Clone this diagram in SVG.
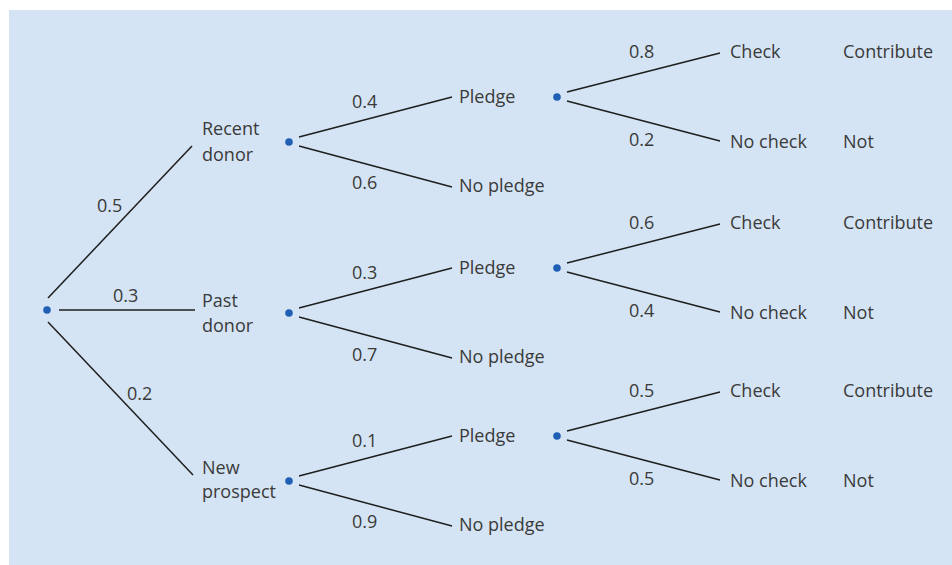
<svg xmlns="http://www.w3.org/2000/svg" width="952" height="565" viewBox="0 0 952 565">
  <style>
    text { font-family: "Open Sans", "Liberation Sans", sans-serif; font-size: 18px; fill: #3a3a3a; }
    .edge { stroke: #1e1e1e; stroke-width: 1.5; fill: none; }
    .dot { fill: #1f5fb4; }
  </style>
  <rect x="9" y="10" width="943" height="555" fill="#d4e4f4"/>

  <!-- root chance node -->
  <g id="root">
    <circle class="dot" cx="47" cy="310" r="3.8"/>
  </g>

  <!-- connectors from the root -->
  <g id="connectors">
    <line class="edge" x1="48" y1="298" x2="192" y2="146"/>
    <line class="edge" x1="59" y1="310" x2="195" y2="310"/>
    <line class="edge" x1="48" y1="322" x2="193" y2="475"/>
    <text x="97" y="212">0.5</text>
    <text x="113" y="302">0.3</text>
    <text x="127" y="400">0.2</text>
  </g>

  <!-- Recent donor branch -->
  <g id="recent-donor">
    <text x="202" y="135">Recent</text>
    <text x="202" y="161">donor</text>
    <circle class="dot" cx="289" cy="142" r="3.8"/>
    <line class="edge" x1="299" y1="137" x2="452" y2="97"/>
    <line class="edge" x1="299" y1="146" x2="452" y2="187"/>
    <text x="352" y="108">0.4</text>
    <text x="352" y="189">0.6</text>
    <text x="459" y="103">Pledge</text>
    <text x="459" y="192">No pledge</text>
    <circle class="dot" cx="557" cy="97" r="3.8"/>
    <line class="edge" x1="567" y1="92" x2="720" y2="53"/>
    <line class="edge" x1="567" y1="101" x2="720" y2="141"/>
    <text x="629" y="58">0.8</text>
    <text x="629" y="146">0.2</text>
    <text x="730" y="58">Check</text>
    <text x="730" y="148">No check</text>
    <text x="843" y="58">Contribute</text>
    <text x="843" y="148">Not</text>
  </g>

  <!-- Past donor branch -->
  <g id="past-donor" transform="translate(0,171)">
    <text x="202" y="136">Past</text>
    <text x="202" y="161">donor</text>
    <circle class="dot" cx="289" cy="142" r="3.8"/>
    <line class="edge" x1="299" y1="137" x2="452" y2="97"/>
    <line class="edge" x1="299" y1="146" x2="452" y2="187"/>
    <text x="352" y="108">0.3</text>
    <text x="352" y="190">0.7</text>
    <text x="459" y="103">Pledge</text>
    <text x="459" y="192">No pledge</text>
    <circle class="dot" cx="557" cy="97" r="3.8"/>
    <line class="edge" x1="567" y1="92" x2="720" y2="53"/>
    <line class="edge" x1="567" y1="101" x2="720" y2="141"/>
    <text x="629" y="58">0.6</text>
    <text x="629" y="146">0.4</text>
    <text x="730" y="58">Check</text>
    <text x="730" y="148">No check</text>
    <text x="843" y="58">Contribute</text>
    <text x="843" y="148">Not</text>
  </g>

  <!-- New prospect branch -->
  <g id="new-prospect" transform="translate(0,339)">
    <text x="202" y="135">New</text>
    <text x="202" y="159">prospect</text>
    <circle class="dot" cx="289" cy="142" r="3.8"/>
    <line class="edge" x1="299" y1="137" x2="452" y2="97"/>
    <line class="edge" x1="299" y1="146" x2="452" y2="187"/>
    <text x="352" y="108">0.1</text>
    <text x="352" y="189">0.9</text>
    <text x="459" y="103">Pledge</text>
    <text x="459" y="192">No pledge</text>
    <circle class="dot" cx="557" cy="97" r="3.8"/>
    <line class="edge" x1="567" y1="92" x2="720" y2="53"/>
    <line class="edge" x1="567" y1="101" x2="720" y2="141"/>
    <text x="629" y="58">0.5</text>
    <text x="629" y="146">0.5</text>
    <text x="730" y="58">Check</text>
    <text x="730" y="148">No check</text>
    <text x="843" y="58">Contribute</text>
    <text x="843" y="148">Not</text>
  </g>
</svg>
